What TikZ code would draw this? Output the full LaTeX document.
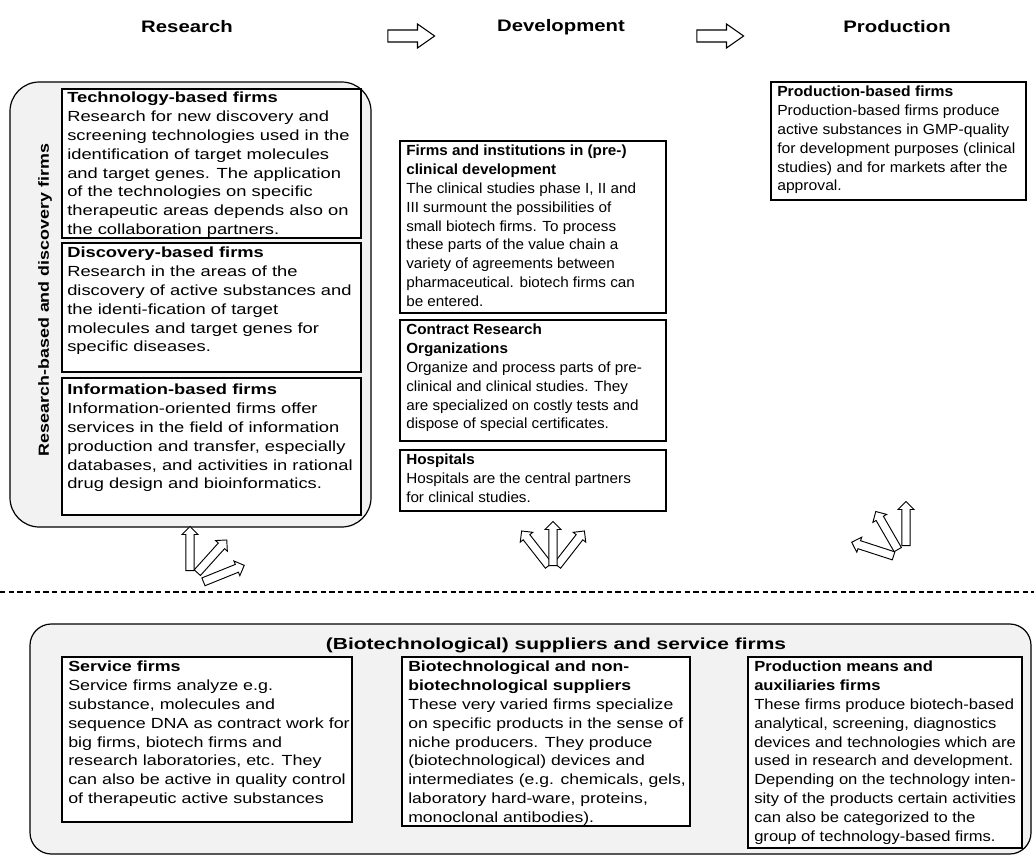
\documentclass[tikz,border=0pt]{standalone}
\usepackage{fontspec}
\setmainfont{Liberation Sans}[FakeStretch=1.22]
\newfontfamily\fL{Liberation Sans}[FakeStretch=1.25]
\newfontfamily\fD{Liberation Sans}[FakeStretch=1.04]
\newfontfamily\fP{Liberation Sans}[FakeStretch=1.07]
\newfontfamily\fS{Liberation Sans}[FakeStretch=1.22]
\newfontfamily\fB{Liberation Sans}[FakeStretch=1.20]
\newfontfamily\fM{Liberation Sans}[FakeStretch=1.13]
\newfontfamily\fT{Liberation Sans}[FakeStretch=1.31]
\usetikzlibrary{shapes.arrows,fit}
\newcommand\bodyfnt{\fontsize{11pt}{14.1pt}\selectfont}
\newcommand\headfnt{\fontsize{12.5pt}{15pt}\selectfont\bfseries}
\begin{document}
\begin{tikzpicture}[x=0.75pt,y=-0.75pt,
  frame/.style={draw, line width=0.9pt, fill=white, inner sep=0pt},
  group/.style={draw, line width=0.9pt, fill=black!5, inner sep=0pt},
  txt/.style={anchor=north west, align=left, inner sep=0pt},
  head/.style={font=\headfnt},
  bigarrow/.style={single arrow, draw, line width=0.8pt, fill=white, minimum height=35pt, inner xsep=0pt, inner ysep=4.1pt, single arrow head extend=4.5pt, single arrow tip angle=70},
  smallarrow/.style={single arrow, draw, line width=0.7pt, fill=white, minimum height=33pt, inner xsep=0pt, inner ysep=2.8pt, single arrow head extend=2.8pt, anchor=tail},
]
\useasboundingbox (0,0) rectangle (1034,856);

% headers
\node[head] (hres) at (187,27) {Research};
\node[head] (hdev) at (561,27) {Development};
\node[head] (hpro) at (897,27) {Production};
\node[bigarrow] (a1) at (407,36) {};
\node[bigarrow] (a2) at (716,36) {};

% research group
\node[group, rounded corners=22pt, fit={(10,82) (371,527)}] (rgroup) {};
\node[font=\bodyfnt\bfseries, rotate=90] (rlab) at (45,300) {Research-based and discovery firms};

\node[frame, fit={(62,89) (361,238)}] (tech) {};
\node[txt, font={\fL\bodyfnt}] (techt) at (67,92) {\textbf{Technology-based firms}\\
Research for new discovery and\\
screening technologies used in the\\
identification of target molecules\\
and target genes. The application\\
of the technologies on specific\\
therapeutic areas depends also on\\
the collaboration partners.};

\node[frame, fit={(62,243) (361,372)}] (disc) {};
\node[txt, font={\fL\bodyfnt}] (disct) at (67,247) {\textbf{Discovery-based firms}\\
Research in the areas of the\\
discovery of active substances and\\
the identi-fication of target\\
molecules and target genes for\\
specific diseases.};

\node[frame, fit={(62,378) (361,515)}] (info) {};
\node[txt, font={\fL\bodyfnt}] (infot) at (67,384) {\textbf{Information-based firms}\\
Information-oriented firms offer\\
services in the field of information\\
production and transfer, especially\\
databases, and activities in rational\\
drug design and bioinformatics.};

% development column
\node[frame, fit={(400,141) (666,313)}] (dev) {};
\node[txt, font={\fD\bodyfnt}] (devt) at (406,145) {\textbf{Firms and institutions in (pre-)}\\
\textbf{clinical development}\\
The clinical studies phase I, II and\\
III surmount the possibilities of\\
small biotech firms. To process\\
these parts of the value chain a\\
variety of agreements between\\
pharmaceutical. biotech firms can\\
be entered.};

\node[frame, fit={(400,320) (666,441)}] (cro) {};
\node[txt, font={\fD\bodyfnt}] (crot) at (406,324) {\textbf{Contract Research}\\
\textbf{Organizations}\\
Organize and process parts of pre-\\
clinical and clinical studies. They\\
are specialized on costly tests and\\
dispose of special certificates.};

\node[frame, fit={(400,450) (666,511)}] (hosp) {};
\node[txt, font={\fD\bodyfnt}] (hospt) at (406,454) {\textbf{Hospitals}\\
Hospitals are the central partners\\
for clinical studies.};

% production column
\node[frame, fit={(771,82) (1026,200)}] (prod) {};
\node[txt, font={\fP\bodyfnt}] (prodt) at (777,86) {\textbf{Production-based firms}\\
Production-based firms produce\\
active substances in GMP-quality\\
for development purposes (clinical\\
studies) and for markets after the\\
approval.};

% arrow clusters
\node[smallarrow, rotate=90] (c1a) at (190,571) {};
\node[smallarrow, rotate=48] (c1b) at (197,573) {};
\node[smallarrow, rotate=22] (c1c) at (203,582) {};

\node[smallarrow, rotate=128] (c2a) at (549,566) {};
\node[smallarrow, rotate=52] (c2c) at (557,566) {};
\node[smallarrow, rotate=90] (c2b) at (553,566) {};

\node[smallarrow, rotate=162] (c3c) at (894,556) {};
\node[smallarrow, rotate=120] (c3b) at (898,550) {};
\node[smallarrow, rotate=90] (c3a) at (906,546) {};

% dashed separator
\coordinate (dl) at (0,592);
\coordinate (dr) at (1034,592);
\draw[dashed, dash pattern=on 4pt off 2.5pt, line width=0.8pt] (dl) -- (dr);

% suppliers group
\node[group, rounded corners=16pt, fit={(30,624) (1031,854)}] (sgroup) {};
\node[font={\fT\fontsize{12pt}{14pt}\selectfont\bfseries}] (stitle) at (556,645) {(Biotechnological) suppliers and service firms};

\node[frame, fit={(62,657) (352,822)}] (serv) {};
\node[txt, font={\fS\bodyfnt}] (servt) at (68,661) {\textbf{Service firms}\\
Service firms analyze e.g.\\
substance, molecules and\\
sequence DNA as contract work for\\
big firms, biotech firms and\\
research laboratories, etc. They\\
can also be active in quality control\\
of therapeutic active substances};

\node[frame, fit={(402,657) (690,826)}] (supp) {};
\node[txt, font={\fB\bodyfnt}] (suppt) at (408,661) {\textbf{Biotechnological and non-}\\
\textbf{biotechnological suppliers}\\
These very varied firms specialize\\
on specific products in the sense of\\
niche producers. They produce\\
(biotechnological) devices and\\
intermediates (e.g. chemicals, gels,\\
laboratory hard-ware, proteins,\\
monoclonal antibodies).};

\node[frame, fit={(748,657) (1022,848)}] (pmeans) {};
\node[txt, font={\fM\bodyfnt}] (pmeanst) at (754,661) {\textbf{Production means and}\\
\textbf{auxiliaries firms}\\
These firms produce biotech-based\\
analytical, screening, diagnostics\\
devices and technologies which are\\
used in research and development.\\
Depending on the technology inten-\\
sity of the products certain activities\\
can also be categorized to the\\
group of technology-based firms.};
\end{tikzpicture}
\end{document}
